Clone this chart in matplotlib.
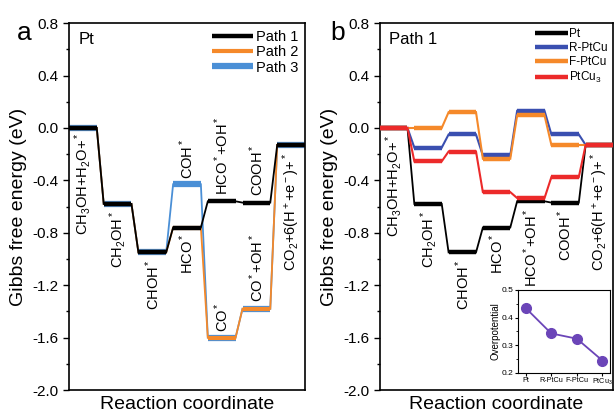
import matplotlib
matplotlib.use("Agg")
import matplotlib.pyplot as plt
from matplotlib.ticker import MultipleLocator

plt.rcParams['font.family'] = ['Liberation Sans', 'DejaVu Sans']
plt.rcParams['mathtext.fontset'] = 'custom'
plt.rcParams['mathtext.rm'] = 'Liberation Sans'
plt.rcParams['mathtext.it'] = 'Liberation Sans'

# ---- data ----
steps = list(range(7))
path1 = [0.0, -0.58, -0.95, -0.76, -0.56, -0.57, -0.13]
path2 = [0.0, -0.58, -0.95, -0.76, -1.60, -1.38, -0.13]
path3 = [0.0, -0.58, -0.95, -0.43, -1.60, -1.38, -0.13]

pt_b = [0.0, -0.58, -0.95, -0.76, -0.56, -0.57, -0.13]
rptcu = [0.0, -0.15, -0.05, -0.21, 0.13, -0.05, -0.13]
fptcu = [0.0, 0.0, 0.12, -0.235, 0.095, -0.13, -0.13]
ptcu3 = [0.0, -0.255, -0.18, -0.49, -0.535, -0.375, -0.13]

inset_cats = ['Pt', 'R-PtCu', 'F-PtCu', 'PtCu$_3$']
overpot = [0.435, 0.343, 0.324, 0.245]

c_black = '#000000'
c_orange = '#f5892a'
c_blue_a = '#4a8fd6'
c_blue_b = '#3a4fb0'
c_red = '#ec2a2a'
c_purple = '#6b45b8'

W = 0.8  # level width


def draw_path(ax, vals, color, lw_level, lw_conn, label=None, z=2):
    for i, v in enumerate(vals):
        ax.plot([i + 0.1, i + 0.1 + W], [v, v], color=color, lw=lw_level,
                solid_capstyle='butt', zorder=z,
                label=label if i == 0 else None)
        if i < len(vals) - 1:
            ax.plot([i + 0.1 + W, i + 1.1], [v, vals[i + 1]], color=color,
                    lw=lw_conn, zorder=z - 0.5)


def style_ax(ax):
    ax.set_xlim(0.1, 6.9)
    ax.set_ylim(-2.0, 0.8)
    ax.yaxis.set_major_locator(MultipleLocator(0.4))
    ax.yaxis.set_minor_locator(MultipleLocator(0.2))
    ax.set_yticklabels([f'{t:.1f}' for t in ax.get_yticks()])
    ax.set_xticks([])
    ax.tick_params(axis='y', which='major', labelsize=11, length=4, width=1)
    ax.tick_params(axis='y', which='minor', length=2.5, width=1)
    for s in ax.spines.values():
        s.set_linewidth(1.2)
    ax.set_ylabel('Gibbs free energy (eV)', fontsize=14, labelpad=4)
    ax.set_xlabel('Reaction coordinate', fontsize=14, labelpad=4)


fig = plt.figure(figsize=(6.14, 4.16), dpi=100)
axa = fig.add_axes([0.1124, 0.0625, 0.3843, 0.882])
axb = fig.add_axes([0.619, 0.0625, 0.3795, 0.882])

# ---- panel a ----
draw_path(axa, path3, c_blue_a, 4.5, 1.3, 'Path 3', z=2)
draw_path(axa, path2, c_orange, 3.0, 1.3, 'Path 2', z=3)
draw_path(axa, path1, c_black, 3.2, 1.3, 'Path 1', z=4)
style_ax(axa)
h, l = axa.get_legend_handles_labels()
order = [l.index('Path 1'), l.index('Path 2'), l.index('Path 3')]
axa.legend([h[i] for i in order], [l[i] for i in order], loc='upper right',
           frameon=False, fontsize=10.5, handlelength=2.8, handletextpad=0.2,
           borderaxespad=0.05, labelspacing=0.1)
axa.text(0.04, 0.975, 'Pt', transform=axa.transAxes, fontsize=12, va='top')
fig.text(0.027, 0.92, 'a', fontsize=19, va='center')

fs = 10.5
def lab(ax, i, y, s, where):
    ax.text(i + 0.5, y, s, rotation=90, fontsize=fs, ha='center', zorder=10,
            va='top' if where == 'below' else 'bottom')

lab(axa, 0, -0.04, 'CH$_3$OH+H$_2$O+$^*$', 'below')
lab(axa, 1, -0.63, 'CH$_2$OH$^*$', 'below')
lab(axa, 2, -1.0, 'CHOH$^*$', 'below')
lab(axa, 3, -0.81, 'HCO$^*$', 'below')
lab(axa, 3, -0.39, 'COH$^*$', 'above')
lab(axa, 4, -0.51, 'HCO$^*$+OH$^*$', 'above')
lab(axa, 4, -1.56, 'CO$^*$', 'above')
lab(axa, 5, -0.52, 'COOH$^*$', 'above')
lab(axa, 5, -1.33, 'CO$^*$+OH$^*$', 'above')
lab(axa, 6, -0.19, 'CO$_2$+6(H$^+$+e$^-$)+$^*$', 'below')

# ---- panel b ----
draw_path(axb, pt_b, c_black, 3.2, 1.3, 'Pt', z=2)
draw_path(axb, rptcu, c_blue_b, 3.2, 1.5, 'R-PtCu', z=3)
draw_path(axb, fptcu, c_orange, 3.2, 1.5, 'F-PtCu', z=4)
draw_path(axb, ptcu3, c_red, 3.2, 1.5, 'PtCu$_3$', z=5)
style_ax(axb)
axb.legend(loc='upper right', frameon=False, fontsize=8.5, handlelength=2.8,
           handletextpad=0.1, borderaxespad=0.05, labelspacing=0.15)
axb.text(0.04, 0.975, 'Path 1', transform=axb.transAxes, fontsize=12, va='top')
fig.text(0.538, 0.92, 'b', fontsize=19, va='center')

lab(axb, 0, -0.05, 'CH$_3$OH+H$_2$O+$^*$', 'below')
lab(axb, 1, -0.63, 'CH$_2$OH$^*$', 'below')
lab(axb, 2, -1.0, 'CHOH$^*$', 'below')
lab(axb, 3, -0.81, 'HCO$^*$', 'below')
lab(axb, 4, -0.61, 'HCO$^*$+OH$^*$', 'below')
lab(axb, 5, -0.62, 'COOH$^*$', 'below')
lab(axb, 6, -0.19, 'CO$_2$+6(H$^+$+e$^-$)+$^*$', 'below')

# ---- inset ----
axi = fig.add_axes([0.8436, 0.1034, 0.15, 0.1995])
xs = list(range(len(inset_cats)))
axi.plot(xs, overpot, '-o', color=c_purple, lw=1.3, ms=7)
axi.set_xlim(-0.3, 3.3)
axi.set_ylim(0.2, 0.5)
axi.set_xticks(xs)
axi.set_xticklabels(inset_cats, fontsize=5.2)
axi.yaxis.set_major_locator(MultipleLocator(0.1))
axi.yaxis.set_minor_locator(MultipleLocator(0.05))
axi.tick_params(axis='y', labelsize=6, length=2, pad=1)
axi.tick_params(axis='x', labelsize=5.2, length=2, pad=1)
axi.tick_params(axis='y', which='minor', length=1.2)
axi.set_ylabel('Overpotential', fontsize=7, labelpad=1)
for s in axi.spines.values():
    s.set_linewidth(0.8)

fig.savefig('out.png', dpi=100)
